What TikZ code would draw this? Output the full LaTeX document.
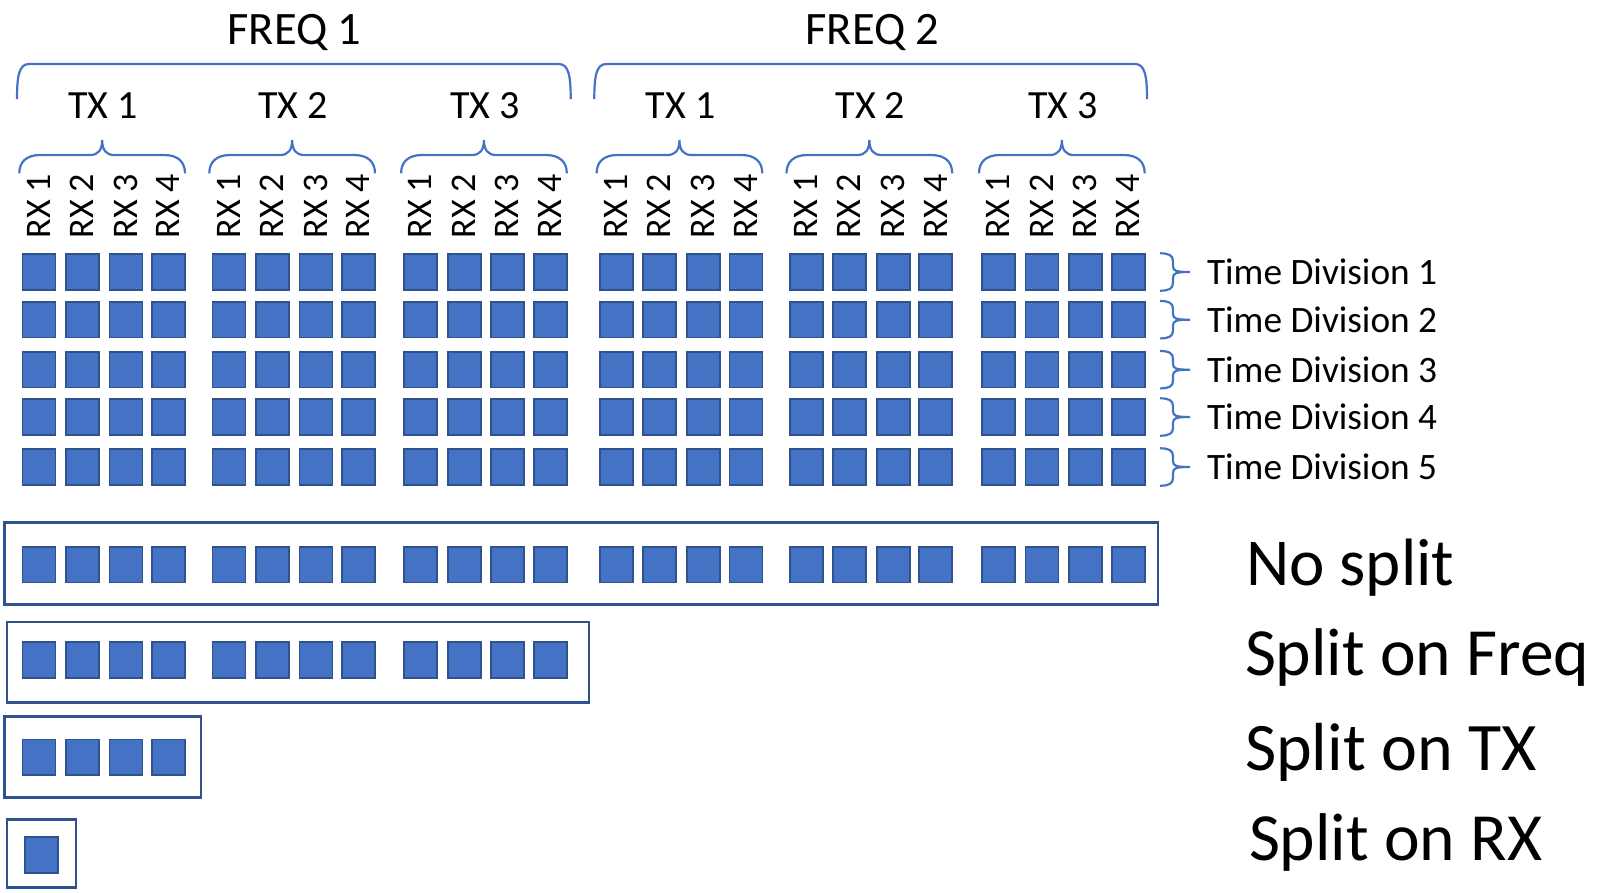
\documentclass[tikz,border=0pt]{standalone}
\usepackage{fontspec}
\setmainfont{Carlito}
\definecolor{sqfill}{HTML}{4472C4}
\definecolor{sqedge}{HTML}{2F528F}
\definecolor{brc}{HTML}{4472C4}
\newcommand{\setfs}[1]{\fontsize{#1}{#1}\selectfont}
\newcommand{\myhbrace}[5]{%
  \pgfmathsetmacro{\bxc}{(#1+#2)/2}%
  \draw[braceline] (#1,#3) .. controls (#1,#4+7) and (#1+7,#4) .. (#1+21,#4)
    -- (\bxc-12,#4) .. controls (\bxc-4,#4) and (\bxc,#4-5) .. (\bxc,#5)
    .. controls (\bxc,#4-5) and (\bxc+4,#4) .. (\bxc+12,#4)
    -- (#2-21,#4) .. controls (#2-7,#4) and (#2,#4+7) .. (#2,#3);}
\newcommand{\myfbrace}[4]{%
  \draw[braceline] (#1,#3) .. controls (#1,#4+12) and (#1+2,#4) .. (#1+12,#4)
    -- (#2-12,#4) .. controls (#2-2,#4) and (#2,#4+12) .. (#2,#3);}
\newcommand{\myvbrace}[5]{%
  \pgfmathsetmacro{\byc}{(#1+#2)/2}%
  \draw[braceline] (#3,#1) .. controls (#4-4,#1) and (#4,#1+2) .. (#4,#1+8)
    -- (#4,\byc-6) .. controls (#4,\byc-1) and (#4+3,\byc) .. (#5,\byc)
    .. controls (#4+3,\byc) and (#4,\byc+1) .. (#4,\byc+6)
    -- (#4,#2-8) .. controls (#4,#2-2) and (#4-4,#2) .. (#3,#2);}
\tikzset{
  cell/.style={draw=sqedge, fill=sqfill, line width=1.8, minimum width=33,
    minimum height=35.6, inner sep=0, outer sep=0},
  braceline/.style={draw=brc, line width=2.2},
  outerbox/.style={draw=sqedge, line width=2.6},
  lab/.style={inner sep=0, outer sep=0, text=black},
  rxlab/.style={lab, rotate=90, anchor=base west, font=\setfs{36}},
}
\begin{document}
\begin{tikzpicture}[x=1pt, y=-1pt]
\useasboundingbox (0,0) rectangle (1603,892);
% titles
\node[lab, anchor=base, font=\setfs{46.5}] (freq1) at (294.5,44) {FREQ 1};
\node[lab, anchor=base, font=\setfs{46.5}] (freq2) at (872.5,44) {FREQ 2};
\myfbrace{17}{570.7}{99}{64}
\myfbrace{594.3}{1147}{99}{64}
% grid
\foreach \g/\gx/\t in {1/21.7/1, 2/211.7/2, 3/403.5/3, 4/599/1, 5/788.9/2, 6/981.4/3} {
  \node[lab, anchor=base, font=\setfs{40}] (tx\g) at (\gx+81.5,118.5) {TX \t};
  \myhbrace{\gx-2.4}{\gx+163.3}{173.3}{155}{140}
  \foreach \c/\cx in {1/0, 2/43.4, 3/87, 4/129.7} {
    \node[rxlab] (rx\g-\c) at (\gx+\cx+17.25+11.2, 238.5) {RX \c};
    \foreach \r/\ry in {1/253.3, 2/301, 3/351, 4/398.3, 5/448.3} {
      \node[cell] (s\g-\c-\r) at (\gx+\cx+17.25, \ry+18.7) {};
    }
    \node[cell] (ns\g-\c) at (\gx+\cx+17.25, 564.6) {};
  }
}
% time divisions
\foreach \r/\ry in {1/253.3, 2/301, 3/351, 4/398.3, 5/448.3} {
  \myvbrace{\ry}{\ry+37.4}{1160}{1173}{1190}
  \node[lab, anchor=base west, font=\setfs{37.3}] (td\r) at (1207,\ry+18.7+12.5) {Time Division \r};
}
% no split
\draw[outerbox] (4.7,522.3) rectangle (1158,604.7);
\node[lab, anchor=base west, font=\setfs{67}] (nosplit) at (1246,585) {No split};
% split on freq
\draw[outerbox] (7,622) rectangle (588.8,702.7);
\foreach \g/\gx in {1/21.7, 2/211.7, 3/403.5} {
  \foreach \c/\cx in {1/0, 2/43.4, 3/87, 4/129.7} {
    \node[cell] (fs\g-\c) at (\gx+\cx+17.25, 659.8) {};
  }
}
\node[lab, anchor=base west, font=\setfs{67.5}] (splitfreq) at (1245,675) {Split on Freq};
% split on tx
\draw[outerbox] (4.7,716.7) rectangle (200.9,797.3);
\foreach \c/\cx in {1/0, 2/43.4, 3/87, 4/129.7} {
  \node[cell] (ts\c) at (21.7+\cx+17.25, 757.2) {};
}
\node[lab, anchor=base west, font=\setfs{68}] (splittx) at (1245,770) {Split on TX};
% split on rx
\draw[outerbox] (7.1,819.3) rectangle (75.9,887.7);
\node[cell] (rs1) at (41.7,855) {};
\node[lab, anchor=base west, font=\setfs{67.5}] (splitrx) at (1249,860) {Split on RX};
\end{tikzpicture}
\end{document}
